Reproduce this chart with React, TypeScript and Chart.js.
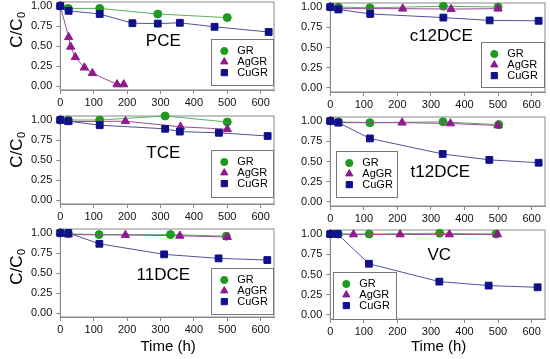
import React, { useEffect, useRef } from "react";
import { Chart, registerables } from "chart.js";
import { drawPoint } from "chart.js/helpers";

Chart.register(...registerables);

const SERIES = ["GR", "AgGR", "CuGR"];
const X_TICKS = [0, 100, 200, 300, 400, 500, 600];
const Y_TICKS = [0, 0.25, 0.5, 0.75, 1.0];

// PCE
const PCE_GR_T = [0, 24, 118, 292, 500];
const PCE_GR = [1.0, 0.97, 0.97, 0.9, 0.855];
const PCE_AG_T = [0, 25, 31, 45, 72, 96, 170, 190];
const PCE_AG = [1.0, 0.61, 0.49, 0.36, 0.23, 0.16, 0.02, 0.02];
const PCE_CU_T = [0, 25, 118, 216, 292, 358, 462, 624];
const PCE_CU = [1.0, 0.94, 0.9, 0.785, 0.78, 0.79, 0.74, 0.675];
// c12DCE
const C12_GR_T = [0, 24, 118, 337, 500];
const C12_GR = [1.0, 1.0, 0.99, 1.01, 1.0];
const C12_AG_T = [0, 24, 216, 360, 500];
const C12_AG = [1.0, 0.98, 0.98, 0.975, 0.98];
const C12_CU_T = [0, 24, 119, 337, 475, 621];
const C12_CU = [1.0, 0.97, 0.915, 0.87, 0.835, 0.83];
// TCE
const TCE_GR_T = [0, 24, 118, 314, 500];
const TCE_GR = [1.0, 1.0, 1.0, 1.05, 0.975];
const TCE_AG_T = [0, 24, 195, 360, 500];
const TCE_AG = [1.0, 0.98, 0.985, 0.915, 0.885];
const TCE_CU_T = [0, 24, 118, 314, 358, 475, 621];
const TCE_CU = [1.0, 0.985, 0.935, 0.89, 0.855, 0.84, 0.8];
// t12DCE
const T12_GR_T = [0, 24, 118, 336, 502];
const T12_GR = [1.0, 0.99, 0.98, 0.99, 0.955];
const T12_AG_T = [0, 24, 214, 358, 500];
const T12_AG = [1.0, 0.98, 0.98, 0.97, 0.945];
const T12_CU_T = [0, 24, 118, 335, 474, 621];
const T12_CU = [1.0, 0.98, 0.785, 0.593, 0.52, 0.485];
// 11DCE
const D11_GR_T = [0, 24, 116, 330, 497];
const D11_GR = [1.0, 0.99, 0.98, 0.98, 0.96];
const D11_AG_T = [0, 24, 195, 358, 500];
const D11_AG = [1.0, 0.98, 0.975, 0.965, 0.95];
const D11_CU_T = [0, 24, 117, 311, 474, 620];
const D11_CU = [1.0, 1.0, 0.865, 0.733, 0.683, 0.662];
// VC
const VC_GR_T = [0, 24, 116, 326, 494];
const VC_GR = [1.0, 1.0, 1.0, 1.01, 1.0];
const VC_AG_T = [0, 69, 208, 355, 498];
const VC_AG = [1.0, 0.995, 0.995, 0.995, 0.995];
const VC_CU_T = [0, 22, 115, 325, 472, 618];
const VC_CU = [1.0, 1.0, 0.633, 0.412, 0.363, 0.342];

const FONT = '"Liberation Sans", Arial, sans-serif';
const STYLES = [
  { color: "#1f9a1f", line: "#5ab25a", shape: "circle", r: 4, lr: 3.6 },
  { color: "#8e1a8e", line: "#9a4a9a", shape: "triangle", r: 4.8, lr: 4.2 },
  { color: "#10108a", line: "#50509a", shape: "rect", r: 4.8, lr: 4.4 },
];

const PANELS = [
  { name: "PCE", col: 0, top: 2, h: 88, data: [[PCE_GR_T, PCE_GR], [PCE_AG_T, PCE_AG], [PCE_CU_T, PCE_CU]], legend: { x: 151, y: 37, w: 62, h: 46 }, label: { x: 103, y: 39 }, yTitle: 30, xTitle: false },
  { name: "c12DCE", col: 1, top: 3, h: 89, data: [[C12_GR_T, C12_GR], [C12_AG_T, C12_AG], [C12_CU_T, C12_CU]], legend: { x: 151, y: 39, w: 63, h: 45 }, label: { x: 111, y: 33 }, yTitle: null, xTitle: false },
  { name: "TCE", col: 0, top: 116, h: 88, data: [[TCE_GR_T, TCE_GR], [TCE_AG_T, TCE_AG], [TCE_CU_T, TCE_CU]], legend: { x: 151, y: 34, w: 62, h: 47 }, label: { x: 103, y: 37 }, yTitle: 150, xTitle: false },
  { name: "t12DCE", col: 1, top: 117, h: 89, data: [[T12_GR_T, T12_GR], [T12_AG_T, T12_AG], [T12_CU_T, T12_CU]], legend: { x: 6, y: 34, w: 61, h: 46 }, label: { x: 110, y: 55 }, yTitle: null, xTitle: false },
  { name: "11DCE", col: 0, top: 229, h: 88, data: [[D11_GR_T, D11_GR], [D11_AG_T, D11_AG], [D11_CU_T, D11_CU]], legend: { x: 151, y: 39, w: 62, h: 46 }, label: { x: 103, y: 46 }, yTitle: 267, xTitle: true },
  { name: "VC", col: 1, top: 230, h: 89, data: [[VC_GR_T, VC_GR], [VC_AG_T, VC_AG], [VC_CU_T, VC_CU]], legend: { x: 3, y: 42, w: 63, h: 47 }, label: { x: 109, y: 25 }, yTitle: null, xTitle: true },
];

const COL_LEFT = [60.3, 330.3];
const COL_RIGHT = [274, 545];
const W = 550;
const H = 359;
const YW = 60;
const XH = 20;

const decorPlugin = {
  id: "decor",
  beforeDatasetsDraw(chart: any) {
    const { ctx, chartArea: ca } = chart;
    ctx.save();
    ctx.strokeStyle = "#8a8a8a";
    ctx.lineWidth = 1;
    ctx.strokeRect(ca.left, ca.top, ca.right - ca.left, ca.bottom - ca.top);
    ctx.restore();
  },
  afterDatasetsDraw(chart: any, _a: any, opts: any) {
    const { ctx, chartArea: ca } = chart;
    const p = opts.panel;
    ctx.save();
    // panel label
    ctx.fillStyle = "#000";
    ctx.font = `17px ${FONT}`;
    ctx.textAlign = "center";
    ctx.textBaseline = "middle";
    ctx.fillText(p.name, ca.left + p.label.x, ca.top + p.label.y);
    // legend
    const lg = p.legend;
    const bx = ca.left + lg.x;
    const by = ca.top + lg.y;
    ctx.fillStyle = "#fff";
    ctx.fillRect(bx, by, lg.w, lg.h);
    ctx.strokeStyle = "#777";
    ctx.lineWidth = 1;
    ctx.strokeRect(Math.round(bx) + 0.5, Math.round(by) + 0.5, lg.w, lg.h);
    SERIES.forEach((s, i) => {
      const st = STYLES[i];
      const yy = by + 12 + i * 10.8;
      ctx.fillStyle = st.color;
      ctx.strokeStyle = st.color;
      drawPoint(ctx, { pointStyle: st.shape, radius: st.lr, rotation: 0, borderWidth: 1 } as any, bx + 13, yy);
      ctx.fillStyle = "#000";
      ctx.font = `11px ${FONT}`;
      ctx.textAlign = "left";
      ctx.textBaseline = "middle";
      ctx.fillText(s, bx + 26, yy);
    });
    // axis titles
    if (p.yTitle !== null) {
      ctx.save();
      ctx.translate(22, p.yTitle);
      ctx.rotate(-Math.PI / 2);
      ctx.fillStyle = "#000";
      ctx.font = `17px ${FONT}`;
      ctx.textBaseline = "alphabetic";
      ctx.textAlign = "left";
      const w1 = ctx.measureText("C/C").width;
      ctx.font = `11px ${FONT}`;
      const w2 = ctx.measureText("0").width;
      const x0 = -(w1 + w2) / 2;
      ctx.font = `17px ${FONT}`;
      ctx.fillText("C/C", x0, 0);
      ctx.font = `11px ${FONT}`;
      ctx.fillText("0", x0 + w1 + 0.5, 3);
      ctx.restore();
    }
    if (p.xTitle) {
      ctx.fillStyle = "#000";
      ctx.font = `15px ${FONT}`;
      ctx.textAlign = "center";
      ctx.textBaseline = "middle";
      ctx.fillText("Time (h)", (ca.left + ca.right) / 2 + 1, 347);
    }
    ctx.restore();
  },
};

const noOverhang = (s: any) => {
  s.paddingLeft = 0;
  s.paddingRight = 0;
  s.paddingTop = 0;
  s.paddingBottom = 0;
};

function makeConfig(p: any): any {
  const left = COL_LEFT[p.col];
  const right = COL_RIGHT[p.col];
  const datasets = p.data.map((d: any, i: number) => {
    const st = STYLES[i];
    return {
      label: SERIES[i],
      data: d[0].map((t: number, k: number) => ({ x: t, y: d[1][k] })),
      borderColor: st.line,
      backgroundColor: st.color,
      pointBackgroundColor: st.color,
      pointBorderColor: st.color,
      pointStyle: st.shape,
      pointRadius: st.r,
      pointBorderWidth: 1,
      borderWidth: 1,
      tension: 0,
      clip: false,
      order: 2 - i,
    };
  });
  const gridCfg = { display: true, drawOnChartArea: false, drawTicks: true, tickLength: 4, color: "#8a8a8a", lineWidth: 1 };
  return {
    type: "line",
    data: { datasets },
    plugins: [decorPlugin],
    options: {
      responsive: false,
      animation: false,
      devicePixelRatio: 1,
      events: [],
      layout: {
        autoPadding: false,
        padding: { left: left - YW, right: W - right, top: p.top, bottom: H - (p.top + p.h) - XH },
      },
      plugins: {
        legend: { display: false },
        tooltip: { enabled: false },
        decor: { panel: p },
      },
      scales: {
        x: {
          type: "linear",
          min: 0,
          max: 640,
          afterBuildTicks: (s: any) => { s.ticks = X_TICKS.map((v) => ({ value: v })); },
          afterFit: (s: any) => { s.height = XH; noOverhang(s); },
          grid: gridCfg,
          border: { display: true, color: "#8a8a8a", width: 1 },
          ticks: { font: { family: FONT, size: 11 }, color: "#111", padding: 2, maxRotation: 0, autoSkip: false },
        },
        y: {
          type: "linear",
          min: -0.05,
          max: 1.05,
          afterBuildTicks: (s: any) => { s.ticks = Y_TICKS.map((v) => ({ value: v })); },
          afterFit: (s: any) => { s.width = YW; noOverhang(s); },
          grid: gridCfg,
          border: { display: true, color: "#8a8a8a", width: 1 },
          ticks: { font: { family: FONT, size: 11 }, color: "#111", padding: 4, callback: (v: any) => Number(v).toFixed(2) },
        },
      },
    },
  };
}

export default function App() {
  const refs = useRef<(HTMLCanvasElement | null)[]>([]);
  useEffect(() => {
    const charts = PANELS.map((p, i) => new Chart(refs.current[i] as HTMLCanvasElement, makeConfig(p)));
    return () => charts.forEach((c) => c.destroy());
  }, []);
  return (
    <div style={{ position: "absolute", left: 0, top: 0, width: W, height: H, background: "#fff", overflow: "hidden" }}>
      {PANELS.map((p, i) => (
        <canvas
          key={p.name}
          ref={(el) => { refs.current[i] = el; }}
          width={W}
          height={H}
          style={{ position: "absolute", left: 0, top: 0, width: W, height: H }}
        />
      ))}
    </div>
  );
}
